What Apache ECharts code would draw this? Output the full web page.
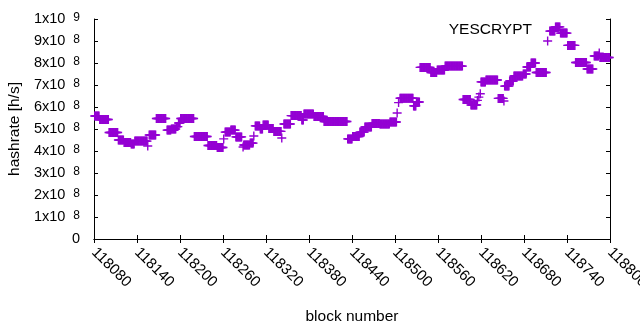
<!DOCTYPE html>
<html>
<head>
<meta charset="utf-8">
<script src="https://cdn.jsdelivr.net/npm/echarts@6/dist/echarts.min.js"></script>
<style>
html,body{margin:0;padding:0;background:#fff}
#main{width:640px;height:330px}
</style>
</head>
<body>
<div id="main"></div>
<script>
// runs of blocks that share one hashrate (x1e8 h/s)
var runStart = [118081,118088,118101,118114,118122,118132,118137,118155,118157,118167,
                118182,118188,118195,118198,118201,118220,118239,118252,118261,118263,
                118271,118278,118288,118289,118298,118303,118305,118312,118316,118324,
                118331,118342,118345,118355,118370,118373,118387,118401,118434,118441,
                118451,118458,118468,118479,118493,118503,118505,118507,118526,118530,
                118535,118550,118559,118570,118595,118606,118615,118617,118619,118620,
                118627,118644,118652,118653,118660,118666,118679,118684,118690,118697,
                118713,118716,118724,118731,118741,118752,118768,118778,118785,118786];
var runEnd   = [118087,118100,118113,118121,118131,118136,118154,118155,118166,118180,
                118187,118194,118197,118200,118219,118238,118251,118260,118261,118270,
                118277,118286,118288,118297,118302,118303,118311,118315,118323,118330,
                118341,118342,118354,118369,118372,118386,118400,118433,118440,118450,
                118457,118467,118478,118492,118502,118503,118505,118525,118529,118534,
                118549,118558,118569,118594,118605,118614,118615,118617,118619,118626,
                118643,118651,118652,118659,118665,118678,118683,118689,118696,118711,
                118713,118723,118730,118740,118751,118767,118776,118784,118785,118799];
var runHash  = [5.59,5.43,4.84,4.50,4.39,4.32,4.45,4.23,4.73,5.48,
                4.95,5.00,5.11,5.27,5.48,4.66,4.25,4.16,4.55,4.86,
                4.95,4.64,4.18,4.27,4.36,4.68,5.14,5.00,5.18,5.02,
                4.89,4.59,5.23,5.61,5.41,5.68,5.57,5.34,4.55,4.66,
                4.86,5.09,5.25,5.23,5.32,5.73,6.20,6.40,6.05,6.23,
                7.80,7.57,7.68,7.86,6.34,6.09,6.30,6.45,6.60,7.14,
                7.23,6.39,6.27,6.95,7.18,7.41,7.50,7.82,8.00,7.57,
                9.00,9.45,9.64,9.36,8.80,8.02,7.73,8.32,8.45,8.25];

var xMin = 118080, xMax = 118800, xStep = 60;
var yMin = 0, yMax = 1e9, yStep = 1e8;
var seriesLabel = 'YESCRYPT';

var points = [];
for (var i = 0; i < runStart.length; i++) {
    for (var b = runStart[i]; b <= runEnd[i]; b++) {
        points.push([b, runHash[i] * 1e8]);
    }
}

var plus = 'path://M38,0H52V38H90V52H52V90H38V52H0V38H38Z';
var font = '"Liberation Sans", Arial, sans-serif';

function yLabel(v) {
    if (v === 0) return '0';
    var e = Math.floor(Math.log10(v) + 1e-9);
    var m = Math.round(v / Math.pow(10, e));
    return '{b|' + m + 'x10}{s|' + e + '}';
}

var myChart = echarts.init(document.getElementById('main'));
var option = {
    animation: false,
    backgroundColor: '#fff',
    textStyle: {fontFamily: font},
    grid: {left: 94, right: 30, top: 19, bottom: 91, outerBoundsMode: 'none', containLabel: false},
    xAxis: [{
        type: 'value',
        min: xMin, max: xMax, interval: xStep,
        name: 'block number',
        nameLocation: 'middle',
        nameGap: 70,
        nameTextStyle: {color: '#000', fontSize: 15.5, fontFamily: font},
        axisLine: {lineStyle: {color: '#000', width: 1}},
        axisTick: {inside: true, length: 4, lineStyle: {color: '#000'}},
        axisLabel: {
            rotate: -45, margin: 11, color: '#000', fontSize: 15, fontFamily: font,
            showMaxLabel: true, showMinLabel: true,
            formatter: function (v) { return String(v); }
        },
        splitLine: {show: false}
    }, {
        type: 'value', position: 'top',
        min: xMin, max: xMax, interval: xStep,
        axisLine: {lineStyle: {color: '#000', width: 1}},
        axisTick: {inside: true, length: 4, lineStyle: {color: '#000'}},
        axisLabel: {show: false},
        splitLine: {show: false}
    }],
    yAxis: [{
        type: 'value',
        min: yMin, max: yMax, interval: yStep,
        name: 'hashrate [h/s]',
        nameLocation: 'middle',
        nameGap: 70,
        nameTextStyle: {color: '#000', fontSize: 15.5, fontFamily: font},
        axisLine: {show: true, lineStyle: {color: '#000', width: 1}},
        axisTick: {show: true, inside: true, length: 4, lineStyle: {color: '#000'}},
        axisLabel: {
            margin: 14, color: '#000', fontSize: 14.5, fontFamily: font,
            formatter: yLabel,
            rich: {
                b: {fontSize: 14.5, lineHeight: 15, verticalAlign: 'bottom', color: '#000', fontFamily: font},
                s: {fontSize: 12, lineHeight: 12, padding: [0, 0, 9, 8], verticalAlign: 'top', color: '#000', fontFamily: font}
            }
        },
        splitLine: {show: false}
    }, {
        type: 'value', position: 'right',
        min: yMin, max: yMax, interval: yStep,
        axisLine: {show: true, lineStyle: {color: '#000', width: 1}},
        axisTick: {show: true, inside: true, length: 4, lineStyle: {color: '#000'}},
        axisLabel: {show: false},
        splitLine: {show: false}
    }],
    graphic: [{
        type: 'text',
        right: 108, top: 22,
        style: {text: seriesLabel, fill: '#000', fontSize: 15.5, fontFamily: font}
    }],
    series: [{
        name: seriesLabel,
        type: 'scatter',
        xAxisIndex: 0, yAxisIndex: 0,
        symbol: plus,
        symbolSize: 9,
        itemStyle: {color: '#9400d3', opacity: 1},
        data: points
    }]
};
myChart.setOption(option);
</script>
</body>
</html>
